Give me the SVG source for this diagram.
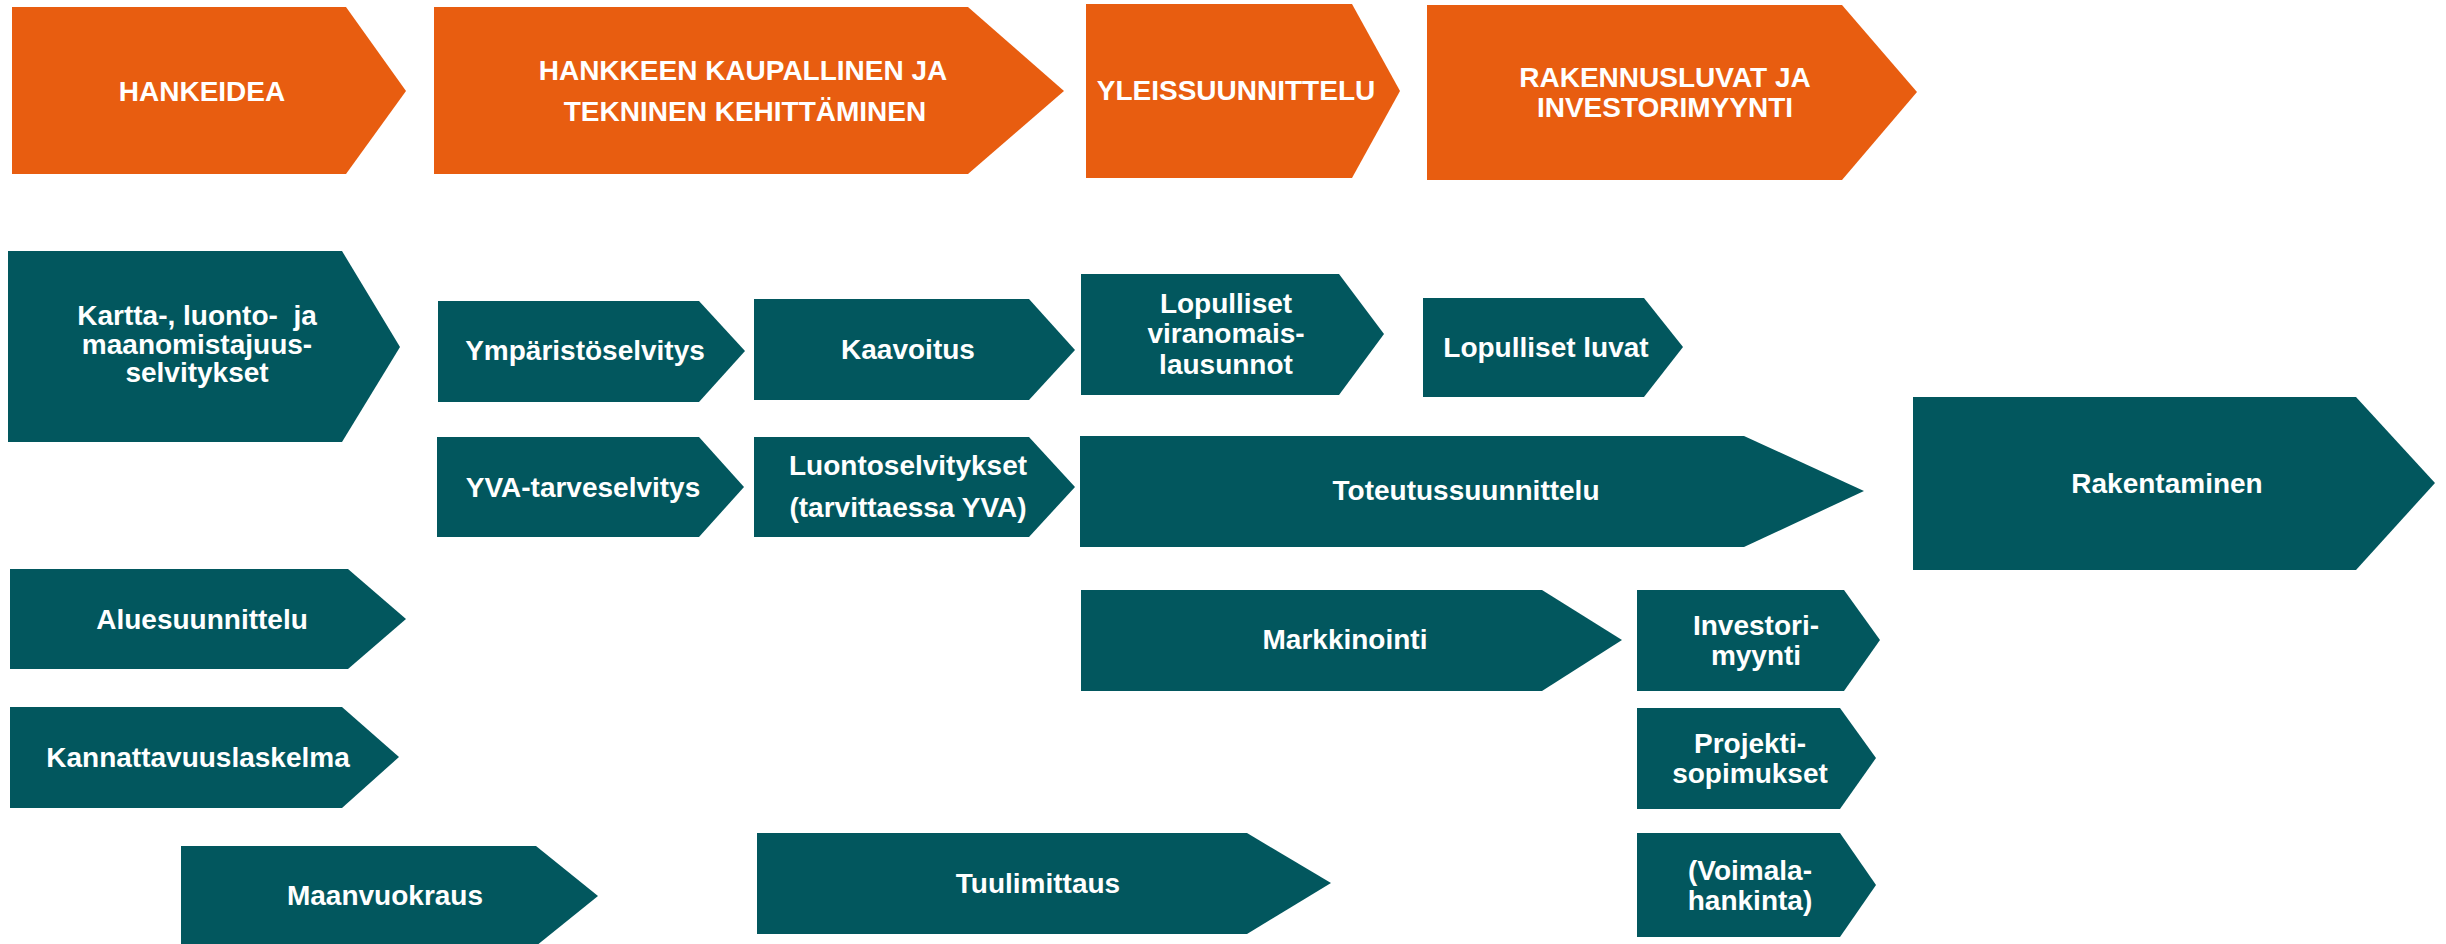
<svg xmlns="http://www.w3.org/2000/svg" width="2446" height="944" viewBox="0 0 2446 944">
<style>
.o{fill:#E85D10}
.t{fill:#02575E}
text{font-family:"Liberation Sans",Arial,sans-serif;font-weight:bold;font-size:28px;fill:#FFFFFF;text-anchor:middle}
</style>
<rect width="2446" height="944" fill="#FFFFFF"/>
<g id="connectors"/>
<g id="n-hankeidea"><polygon class="o" points="12,7 346,7 406,91 346,174 12,174"/><text x="202" y="101">HANKEIDEA</text></g>
<g id="n-hankkeen"><polygon class="o" points="434,7 968,7 1064,91 968,174 434,174"/><text x="743" y="80">HANKKEEN KAUPALLINEN JA</text><text x="745" y="121">TEKNINEN KEHITTÄMINEN</text></g>
<g id="n-yleis"><polygon class="o" points="1086,4 1352,4 1400,91 1352,178 1086,178"/><text x="1236" y="100">YLEISSUUNNITTELU</text></g>
<g id="n-rakennusluvat"><polygon class="o" points="1427,5 1842,5 1917,92 1842,180 1427,180"/><text x="1665" y="87">RAKENNUSLUVAT JA</text><text x="1665" y="117">INVESTORIMYYNTI</text></g>
<g id="n-kartta"><polygon class="t" points="8,251 342,251 400,347 342,442 8,442"/><text x="197" y="325">Kartta-, luonto-&#160; ja</text><text x="197" y="354">maanomistajuus-</text><text x="197" y="382">selvitykset</text></g>
<g id="n-ymparisto"><polygon class="t" points="438,301 699,301 745,351 699,402 438,402"/><text x="585" y="360">Ympäristöselvitys</text></g>
<g id="n-kaavoitus"><polygon class="t" points="754,299 1029,299 1075,350 1029,400 754,400"/><text x="908" y="359">Kaavoitus</text></g>
<g id="n-yva"><polygon class="t" points="437,437 699,437 744,487 699,537 437,537"/><text x="583" y="497">YVA-tarveselvitys</text></g>
<g id="n-luonto"><polygon class="t" points="754,437 1029,437 1075,487 1029,537 754,537"/><text x="908" y="475">Luontoselvitykset</text><text x="908" y="517">(tarvittaessa YVA)</text></g>
<g id="n-lausunnot"><polygon class="t" points="1081,274 1339,274 1384,334 1339,395 1081,395"/><text x="1226" y="313">Lopulliset</text><text x="1226" y="343">viranomais-</text><text x="1226" y="374">lausunnot</text></g>
<g id="n-luvat"><polygon class="t" points="1423,298 1644,298 1683,347 1644,397 1423,397"/><text x="1546" y="357">Lopulliset luvat</text></g>
<g id="n-toteutus"><polygon class="t" points="1080,436 1744,436 1864,491 1744,547 1080,547"/><text x="1466" y="500">Toteutussuunnittelu</text></g>
<g id="n-rakentaminen"><polygon class="t" points="1913,397 2356,397 2435,483 2356,570 1913,570"/><text x="2167" y="493">Rakentaminen</text></g>
<g id="n-alue"><polygon class="t" points="10,569 348,569 406,619 348,669 10,669"/><text x="202" y="629">Aluesuunnittelu</text></g>
<g id="n-kannattavuus"><polygon class="t" points="10,707 342,707 399,757 342,808 10,808"/><text x="198" y="767">Kannattavuuslaskelma</text></g>
<g id="n-maanvuokraus"><polygon class="t" points="181,846 536,846 598,896 536,946 181,946"/><text x="385" y="905">Maanvuokraus</text></g>
<g id="n-markkinointi"><polygon class="t" points="1081,590 1542,590 1622,640 1542,691 1081,691"/><text x="1345" y="649">Markkinointi</text></g>
<g id="n-investori"><polygon class="t" points="1637,590 1844,590 1880,640 1844,691 1637,691"/><text x="1756" y="635">Investori-</text><text x="1756" y="665">myynti</text></g>
<g id="n-projekti"><polygon class="t" points="1637,708 1840,708 1876,758 1840,809 1637,809"/><text x="1750" y="753">Projekti-</text><text x="1750" y="783">sopimukset</text></g>
<g id="n-voimala"><polygon class="t" points="1637,833 1840,833 1876,885 1840,937 1637,937"/><text x="1750" y="880">(Voimala-</text><text x="1750" y="910">hankinta)</text></g>
<g id="n-tuulimittaus"><polygon class="t" points="757,833 1247,833 1331,883 1247,934 757,934"/><text x="1038" y="893">Tuulimittaus</text></g>
</svg>
